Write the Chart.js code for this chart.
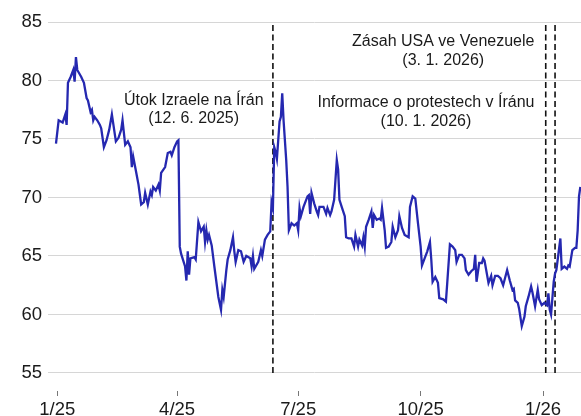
<!DOCTYPE html>
<html>
<head>
<meta charset="utf-8">
<script src="https://cdn.jsdelivr.net/npm/chart.js@4"></script>
<style>
  body { margin: 0; background: #fff; }
</style>
</head>
<body>
<canvas id="oil" width="581" height="416"></canvas>
<script>
// days since 1. 1. 2025
const days = [
  -1, 1, 4, 6, 7, 8, 10, 12, 13, 14, 15, 18, 20, 22, 23, 25, 26, 27, 28, 30,
  32, 33, 35, 37, 39, 41, 44, 46, 48, 49, 51, 53, 55, 56, 57, 59, 61, 63, 65, 66,
  68, 70, 71, 72, 74, 76, 77, 78, 81, 83, 85, 86, 88, 90, 91, 92, 93, 96, 97, 98,
  99, 100, 103, 104, 106, 108, 110, 111, 112, 113, 114, 116, 118, 121, 123, 124, 125, 127, 128, 130,
  132, 133, 134, 136, 138, 140, 142, 145, 146, 147, 148, 151, 153, 154, 156, 158, 160, 161, 162, 163,
  164, 165, 167, 168, 169, 170, 172, 173, 174, 176, 178, 180, 181, 182, 183, 185, 187, 188, 189, 190,
  191, 193, 195, 196, 197, 200, 202, 203, 205, 206, 208, 209, 210, 211, 212, 214, 216, 217, 219, 221,
  223, 224, 226, 227, 229, 230, 231, 232, 234, 236, 237, 238, 240, 242, 243, 244, 246, 247, 249, 251,
  252, 254, 256, 257, 259, 261, 264, 265, 267, 269, 271, 273, 274, 276, 278, 280, 281, 282, 284, 286,
  287, 290, 292, 293, 295, 297, 299, 300, 302, 304, 306, 307, 309, 311, 313, 314, 315, 317, 319, 320,
  321, 324, 326, 327, 329, 331, 333, 335, 338, 340, 342, 343, 344, 346, 347, 349, 351, 352, 354, 356,
  357, 359, 361, 362, 364, 366, 368, 369, 370, 371, 373, 374, 375, 376, 378, 379, 381, 383, 384, 385,
  387, 389, 390, 391, 392, 393
];
const prices = [
  74.6, 76.6, 76.4, 77.1, 76.2, 79.8, 80.3, 80.9, 79.9, 82.0, 80.9, 80.3, 79.8, 78.5, 78.3, 77.3, 77.5, 76.6, 76.9, 76.6,
  76.2, 75.9, 74.3, 74.9, 75.8, 77.1, 74.8, 75.1, 75.8, 76.6, 74.5, 74.8, 74.3, 72.6, 73.5, 72.3, 71.1, 69.4, 69.6, 70.4,
  69.4, 70.5, 70.2, 70.9, 70.6, 71.1, 70.6, 72.1, 72.6, 73.8, 73.9, 73.6, 74.3, 74.8, 74.9, 65.8, 65.2, 64.1, 62.9, 65.4,
  63.4, 64.8, 64.9, 64.7, 67.9, 67.1, 67.5, 66.2, 67.2, 66.4, 66.8, 65.9, 64.1, 61.5, 60.4, 62.1, 61.5, 63.8, 64.7, 65.5,
  66.6, 65.4, 64.5, 65.5, 65.4, 64.5, 65.0, 64.8, 64.1, 65.0, 63.9, 64.5, 65.5, 65.0, 66.4, 66.8, 67.1, 69.6, 69.1, 74.3,
  73.9, 73.3, 76.5, 76.9, 78.9, 76.6, 73.2, 70.9, 67.2, 67.8, 67.6, 67.8, 67.2, 69.1, 68.4, 69.2, 69.8, 70.1, 70.2, 68.6,
  70.4, 69.5, 68.8, 68.5, 69.2, 69.2, 68.6, 69.1, 68.5, 68.8, 69.8, 71.5, 73.2, 72.4, 69.8, 69.1, 68.4, 66.6, 66.5, 66.5,
  65.8, 66.8, 65.8, 66.4, 65.9, 66.6, 65.8, 67.5, 68.1, 68.8, 67.4, 68.5, 68.1, 68.2, 68.1, 69.1, 67.2, 65.7, 65.8, 66.2,
  67.5, 66.6, 67.2, 68.4, 67.4, 66.8, 66.6, 69.2, 70.1, 69.9, 67.8, 65.8, 64.2, 64.8, 65.4, 66.2, 64.7, 62.8, 63.2, 62.7,
  61.4, 61.3, 61.1, 62.7, 66.0, 65.8, 65.5, 64.5, 65.1, 65.1, 64.8, 63.8, 63.4, 63.7, 63.9, 65.1, 62.8, 64.4, 64.4, 64.8,
  64.6, 62.7, 63.3, 62.5, 63.3, 63.3, 63.1, 62.5, 63.8, 62.9, 62.1, 62.2, 61.2, 61.0, 60.5, 59.0, 59.8, 60.7, 61.5, 62.4,
  61.9, 60.7, 62.1, 61.3, 60.8, 61.0, 60.8, 61.8, 60.4, 60.0, 62.8, 63.5, 63.8, 64.7, 66.5, 63.9, 64.1, 63.9, 64.2, 64.1,
  65.5, 65.7, 65.7, 67.2, 70.1, 70.9
];

const tickDays = [0, 90, 181, 273, 365];
const tickLabels = ["1/25", "4/25", "7/25", "10/25", "1/26"];
const yTicks = [55, 60, 65, 70, 75, 80, 85];

// 12. 6. 2025, 3. 1. 2026, 10. 1. 2026
const eventDays = [162, 367, 374];
const noteTexts = [
  ["Útok Izraele na Írán", "(12. 6. 2025)"],
  ["Zásah USA ve Venezuele", "(3. 1. 2026)"],
  ["Informace o protestech v Íránu", "(10. 1. 2026)"]
];
// text anchor in data units (day, price)
const noteAnchors = [[102.5, 78.3], [290, 83.3], [277, 78.1]];

Chart.defaults.font.family = "'Liberation Sans', Arial, sans-serif";
Chart.defaults.color = "#1a1a1a";

const notes = {
  id: "notes",
  afterDatasetsDraw(chart) {
    const c = chart.ctx;
    const sx = chart.scales.x, sy = chart.scales.y;
    c.save();
    c.font = "16px 'Liberation Sans', Arial, sans-serif";
    c.fillStyle = "#1a1a1a";
    c.textAlign = "center";
    c.textBaseline = "middle";
    noteTexts.forEach((lines, i) => {
      const x = sx.getPixelForValue(noteAnchors[i][0]);
      const y = sy.getPixelForValue(noteAnchors[i][1]);
      lines.forEach((t, j) => c.fillText(t, x, y + j * 18.5));
    });
    c.restore();
  }
};

const eventSets = eventDays.map(d => ({
  data: [{ x: d, y: 55 }, { x: d, y: 85 }],
  borderColor: "#111",
  borderWidth: 1.6,
  borderDash: [6, 3.5],
  pointRadius: 0
}));

new Chart(document.getElementById("oil"), {
  type: "line",
  data: {
    datasets: [
      {
        data: days.map((d, i) => ({ x: d, y: prices[i] })),
        borderColor: "#2528b0",
        borderWidth: 2.3,
        pointRadius: 0,
        tension: 0
      },
      ...eventSets
    ]
  },
  options: {
    responsive: false,
    animation: false,
    layout: { padding: { top: 22, left: 0, right: 0, bottom: 0 } },
    plugins: { legend: { display: false }, tooltip: { enabled: false } },
    scales: {
      x: {
        type: "linear",
        min: -7,
        max: 393.5,
        afterBuildTicks: s => { s.ticks = tickDays.map(v => ({ value: v })); },
        afterFit: s => { s.height = 25; },
        ticks: {
          callback: (v, i) => tickLabels[i],
          font: { size: 18.5 },
          padding: 3,
          maxRotation: 0,
          autoSkip: false
        },
        grid: { drawOnChartArea: false, tickLength: 5, color: "#777" },
        border: { display: false }
      },
      y: {
        min: 53.46,
        max: 85,
        afterBuildTicks: s => { s.ticks = yTicks.map(v => ({ value: v })); },
        afterFit: s => { s.width = 48; },
        ticks: { font: { size: 18.5 }, padding: 6 },
        grid: { color: "#d6d6d6", drawTicks: false },
        border: { display: false }
      }
    }
  },
  plugins: [notes]
});
</script>
</body>
</html>
